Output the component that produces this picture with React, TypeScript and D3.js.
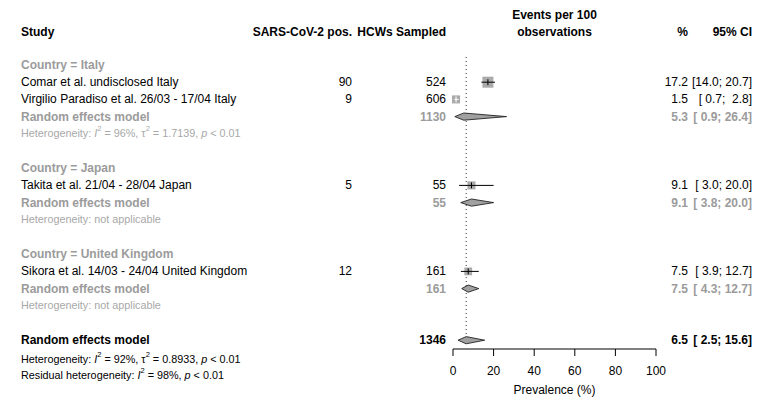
import React from "react";
import * as d3 from "d3";

// ---- data ----
const studyLabels = [
  "Comar et al. undisclosed Italy",
  "Virgilio Paradiso et al. 26/03 - 17/04 Italy",
  "Takita et al. 21/04 - 28/04 Japan",
  "Sikora et al. 14/03 - 24/04 United Kingdom",
];
const studyGroup = ["Italy", "Italy", "Japan", "United Kingdom"];
const studyEvents = [90, 9, 5, 12];
const studySampled = [524, 606, 55, 161];
const studyEst = [17.2, 1.5, 9.1, 7.5];
const studyLower = [14.0, 0.7, 3.0, 3.9];
const studyUpper = [20.7, 2.8, 20.0, 12.7];
const studyWeight = [30, 16, 16, 15];

const groupNames = ["Italy", "Japan", "United Kingdom"];
const groupTotal = [1130, 55, 161];
const groupEst = [5.3, 9.1, 7.5];
const groupLower = [0.9, 3.8, 4.3];
const groupUpper = [26.4, 20.0, 12.7];
const groupHet = [
  { i2: "96%", tau2: "1.7139", p: "0.01" },
  null,
  null,
];

const overallTotal = 1346;
const overallEst = 6.5;
const overallLower = 2.5;
const overallUpper = 15.6;
const overallHet = { i2: "92%", tau2: "0.8933", p: "0.01" };
const residualHet = { i2: "98%", p: "0.01" };

const axisTicks = [0, 20, 40, 60, 80, 100];

// ---- layout ----
const W = 771;
const H = 405;
const FONT = "'Liberation Sans', Arial, Helvetica, sans-serif";
const GRAY = "#9b9b9b";
const HGRAY = "#a8a8a8";
const HET_SIZE = 10.8;

const x = d3.scaleLinear().domain([0, 100]).range([453, 656]);
const rowY = d3.scaleLinear().domain([0, 1]).range([65, 82.2]);
const sqSize = d3.scaleSqrt().domain([0, d3.max(studyWeight) as number]).range([0, 11]);

const COL_STUDY = 21;
const COL_EVENTS = 352;
const COL_N = 446;
const COL_PCT = 688;
const COL_CI = 752;

const pad = (v: number) => {
  const s = v.toFixed(1);
  return s.length < 4 ? " " + s : s;
};
const ciText = (lo: number, hi: number) => `[${pad(lo)}; ${pad(hi)}]`;

function HetText({ y, het, color, label, size }: any) {
  return (
    <text x={COL_STUDY} y={y} fill={color} fontSize={size} dominantBaseline="central">
      {label}
      {het ? (
        <>
          <tspan fontStyle="italic">I</tspan>
          <tspan baselineShift="super" fontSize={size * 0.7}>2</tspan>
          <tspan>{` = ${het.i2}, `}</tspan>
          {het.tau2 ? (
            <>
              <tspan>τ</tspan>
              <tspan baselineShift="super" fontSize={size * 0.7}>2</tspan>
              <tspan>{` = ${het.tau2}, `}</tspan>
            </>
          ) : null}
          <tspan fontStyle="italic">p</tspan>
          <tspan>{` < ${het.p}`}</tspan>
        </>
      ) : (
        <tspan>not applicable</tspan>
      )}
    </text>
  );
}

function Diamond({ y, est, lo, hi }: any) {
  const h = 3.6;
  const p = `M${x(lo)},${y} L${x(est)},${y - h} L${x(hi)},${y} L${x(est)},${y + h} Z`;
  return <path d={p} fill="#a0a0a0" stroke="#222" strokeWidth={0.9} />;
}

export default function App() {
  const rows: any[] = [];
  let r = 0;
  const groupRows: number[] = [];
  groupNames.forEach((g, gi) => {
    const gStart = r;
    groupRows.push(gStart);
    r += 1;
    studyLabels.forEach((s, si) => {
      if (studyGroup[si] === g) {
        rows.push({ type: "study", idx: si, row: r });
        r += 1;
      }
    });
    rows.push({ type: "group", idx: gi, row: r, head: gStart });
    r += 1;
    rows.push({ type: "het", idx: gi, row: r });
    r += 2;
  });
  const overallRow = r;

  const textStyle: React.CSSProperties = { whiteSpace: "pre" };

  return (
    <svg
      width={W}
      height={H}
      style={{ position: "absolute", left: 0, top: 0, background: "#fff" }}
      fontFamily={FONT}
      fontSize={12}
    >
      <rect x={0} y={0} width={W} height={H} fill="#fff" />
      {/* headers */}
      <g fontWeight="bold" fill="#000">
        <text x={COL_STUDY} y={32} dominantBaseline="central">Study</text>
        <text x={COL_EVENTS} y={32} textAnchor="end" dominantBaseline="central">SARS-CoV-2 pos.</text>
        <text x={COL_N} y={32} textAnchor="end" dominantBaseline="central">HCWs Sampled</text>
        <text x={(x(0) + x(100)) / 2} y={15} textAnchor="middle" dominantBaseline="central">Events per 100</text>
        <text x={(x(0) + x(100)) / 2} y={32} textAnchor="middle" dominantBaseline="central">observations</text>
        <text x={COL_PCT} y={32} textAnchor="end" dominantBaseline="central">%</text>
        <text x={COL_CI} y={32} textAnchor="end" dominantBaseline="central">95% CI</text>
      </g>

      {/* reference line */}
      <line
        x1={x(overallEst)}
        x2={x(overallEst)}
        y1={57}
        y2={rowY(overallRow) - 4}
        stroke="#333"
        strokeWidth={1}
        strokeDasharray="1,3"
      />

      {/* group headings */}
      {groupNames.map((g, gi) => (
        <text key={g} x={COL_STUDY} y={rowY(groupRows[gi])} fill={GRAY} fontWeight="bold" dominantBaseline="central">
          {`Country = ${g}`}
        </text>
      ))}

      {rows.map((rw, k) => {
        const y = rowY(rw.row);
        if (rw.type === "study") {
          const i = rw.idx;
          const s = sqSize(studyWeight[i]);
          const inside = x(studyUpper[i]) - x(studyLower[i]) < s;
          const lc = inside ? "#fff" : "#000";
          return (
            <g key={k}>
              <text x={COL_STUDY} y={y} dominantBaseline="central">{studyLabels[i]}</text>
              <text x={COL_EVENTS} y={y} textAnchor="end" dominantBaseline="central">{studyEvents[i]}</text>
              <text x={COL_N} y={y} textAnchor="end" dominantBaseline="central">{studySampled[i]}</text>
              <rect x={x(studyEst[i]) - s / 2} y={y - s / 2} width={s} height={s} fill="#aaaaaa" />
              <line x1={x(studyLower[i])} x2={x(studyUpper[i])} y1={y} y2={y} stroke={lc} strokeWidth={1} />
              <line x1={x(studyEst[i])} x2={x(studyEst[i])} y1={y - 3} y2={y + 3} stroke={lc} strokeWidth={1} />
              <text x={COL_PCT} y={y} textAnchor="end" dominantBaseline="central">{studyEst[i].toFixed(1)}</text>
              <text x={COL_CI} y={y} textAnchor="end" dominantBaseline="central" style={textStyle} xmlSpace="preserve">
                {ciText(studyLower[i], studyUpper[i])}
              </text>
            </g>
          );
        }
        if (rw.type === "group") {
          const i = rw.idx;
          return (
            <g key={k} fill={GRAY} fontWeight="bold">
              <text x={COL_STUDY} y={y} dominantBaseline="central">Random effects model</text>
              <text x={COL_N} y={y} textAnchor="end" dominantBaseline="central">{groupTotal[i]}</text>
              <Diamond y={y} est={groupEst[i]} lo={groupLower[i]} hi={groupUpper[i]} />
              <text x={COL_PCT} y={y} textAnchor="end" dominantBaseline="central">{groupEst[i].toFixed(1)}</text>
              <text x={COL_CI} y={y} textAnchor="end" dominantBaseline="central" style={textStyle} xmlSpace="preserve">
                {ciText(groupLower[i], groupUpper[i])}
              </text>
            </g>
          );
        }
        return <HetText key={k} y={y - 1} het={groupHet[rw.idx]} color={HGRAY} size={HET_SIZE} label="Heterogeneity: " />;
      })}

      {/* overall */}
      <g fontWeight="bold" fill="#000">
        <text x={COL_STUDY} y={rowY(overallRow)} dominantBaseline="central">Random effects model</text>
        <text x={COL_N} y={rowY(overallRow)} textAnchor="end" dominantBaseline="central">{overallTotal}</text>
        <text x={COL_PCT} y={rowY(overallRow)} textAnchor="end" dominantBaseline="central">{overallEst.toFixed(1)}</text>
        <text x={COL_CI} y={rowY(overallRow)} textAnchor="end" dominantBaseline="central" style={textStyle} xmlSpace="preserve">
          {ciText(overallLower, overallUpper)}
        </text>
      </g>
      <Diamond y={rowY(overallRow)} est={overallEst} lo={overallLower} hi={overallUpper} />
      <HetText y={rowY(overallRow + 1) + 1.5} het={overallHet} color="#000" size={HET_SIZE} label="Heterogeneity: " />
      <HetText y={rowY(overallRow + 2)} het={residualHet} color="#000" size={HET_SIZE} label="Residual heterogeneity: " />

      {/* axis */}
      <g stroke="#000" strokeWidth={1}>
        <line x1={x(0)} x2={x(100)} y1={349} y2={349} />
        {axisTicks.map((t) => (
          <line key={t} x1={x(t)} x2={x(t)} y1={349} y2={356} />
        ))}
      </g>
      {axisTicks.map((t) => (
        <text key={t} x={x(t)} y={371} textAnchor="middle" dominantBaseline="central">{t}</text>
      ))}
      <text x={(x(0) + x(100)) / 2} y={390} textAnchor="middle" dominantBaseline="central">Prevalence (%)</text>
    </svg>
  );
}
